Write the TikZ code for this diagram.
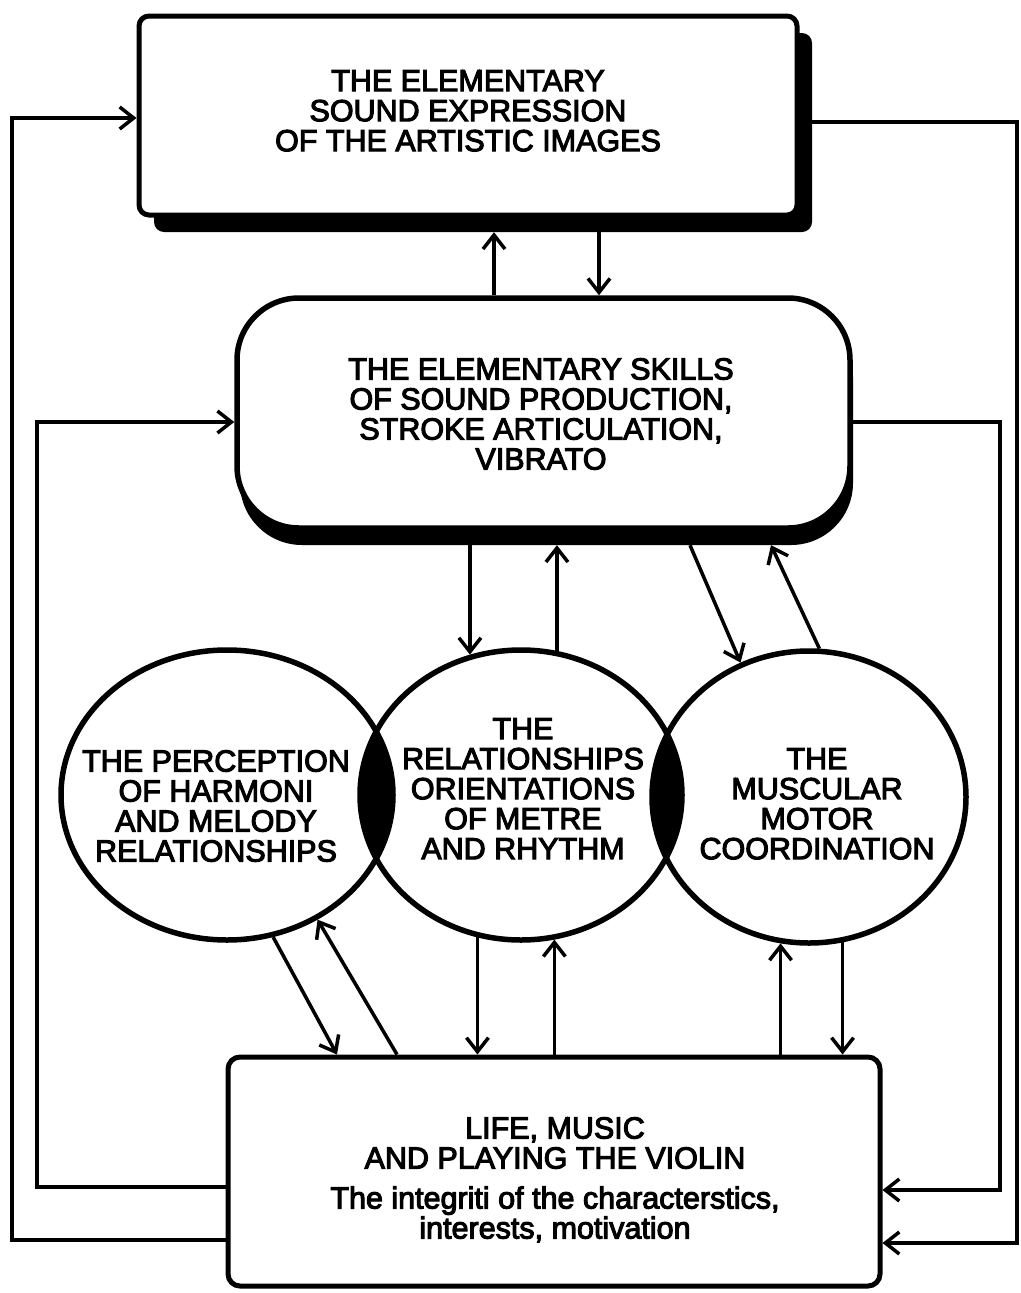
\documentclass[tikz,border=0pt]{standalone}
\usepackage{fontspec}
\setmainfont{Liberation Sans}[FakeBold=3.5]
\usetikzlibrary{arrows.meta,shapes.geometric}
\begin{document}
\begin{tikzpicture}[x=1pt,y=-1pt,
  boxline/.style={draw=black,line width=5pt,fill=white,inner sep=0pt},
  shadowfill/.style={fill=black,inner sep=0pt},
  ring/.style={ellipse,draw=black,line width=5.5pt,inner sep=0pt},
  txt/.style={font=\fontsize{30.5pt}{30pt}\selectfont,align=center,inner sep=0pt},
  arr/.style={line width=3.5pt,-{Straight Barb[length=14pt,width=22pt]}},
  link/.style={line width=3.5pt}
]
\useasboundingbox (0,0) rectangle (1020,1293);
\fill[white] (0,0) rectangle (1020,1293);

% top box with shadow
\node[shadowfill,rounded corners=10pt,minimum width=658pt,minimum height=199pt] (topsh) at (483,132.5) {};
\node[boxline,rounded corners=10pt,minimum width=658pt,minimum height=199pt] (top) at (468,115.5) {};
\node[txt,anchor=north] (toptext) at (468,70) {THE ELEMENTARY\\SOUND EXPRESSION\\OF THE ARTISTIC IMAGES};

% skills box with shadow
\node[shadowfill,rounded corners=62pt,minimum width=613pt,minimum height=230pt] (skillsh) at (546.5,430) {};
\node[boxline,line width=5.5pt,rounded corners=62pt,minimum width=613pt,minimum height=230pt] (skills) at (543.5,413) {};
\node[txt,anchor=north] (skillstext) at (541,358) {THE ELEMENTARY SKILLS\\OF SOUND PRODUCTION,\\STROKE ARTICULATION,\\VIBRATO};

% bottom box
\node[boxline,rounded corners=12pt,minimum width=652pt,minimum height=229pt] (life) at (554,1171.5) {};
\node[txt,anchor=north] (lifetext) at (555,1117) {LIFE, MUSIC\\AND PLAYING THE VIOLIN\\[10pt]The integriti of the characterstics,\\interests, motivation};

% circles
\node[ring,minimum width=332pt,minimum height=290pt] (lc) at (227,795) {};
\node[ring,minimum width=322pt,minimum height=290pt] (mid) at (521,795) {};
\node[ring,minimum width=314pt,minimum height=292pt] (rc) at (809,797) {};
\begin{scope}
  \clip (227,795) ellipse [x radius=166pt, y radius=145pt];
  \fill[black] (521,795) ellipse [x radius=161pt, y radius=145pt];
\end{scope}
\begin{scope}
  \clip (521,795) ellipse [x radius=161pt, y radius=145pt];
  \fill[black] (809,797) ellipse [x radius=157pt, y radius=146pt];
\end{scope}
\node[txt,anchor=north] (lctext) at (216,750) {THE PERCEPTION\\OF HARMONI\\AND MELODY\\RELATIONSHIPS};
\node[txt,anchor=north] (midtext) at (523,718) {THE\\RELATIONSHIPS\\ORIENTATIONS\\OF METRE\\AND RHYTHM};
\node[txt,anchor=north] (rctext) at (817,748) {THE\\MUSCULAR\\MOTOR\\COORDINATION};

% helper coordinates
\coordinate (xa) at (494,0);
\coordinate (xb) at (599,0);
\coordinate (xe) at (690,0);
\coordinate (xf) at (771,0);
\coordinate (xg) at (337,0);
\coordinate (xh) at (397,0);
\coordinate (o1) at (12,1240);
\coordinate (o2) at (12,118);
\coordinate (i1) at (37,1187);
\coordinate (i2) at (37,422);
\coordinate (r1) at (1000,422);
\coordinate (r2) at (1000,1190);
\coordinate (q1) at (1017,122);
\coordinate (q2) at (1017,1243);

% top <-> skills
\draw[arr] (skills.north -| xa) -- (topsh.south -| xa);
\draw[arr] (topsh.south -| xb) -- (skills.north -| xb);

% skills <-> circles
\draw[arr] (skillsh.south -| mid.110) -- (mid.110);
\draw[arr] (mid.76) -- (skillsh.south -| mid.76);
\draw[arr] (skillsh.south -| xe) -- (rc.117);
\draw[arr] (rc.86) -- (skillsh.south -| xf);

% circles <-> life
\draw[arr] (lc.288) -- (life.north -| xg);
\draw[arr] (life.north -| xh) -- (lc.306);
\draw[arr] (mid.253) -- (life.north -| mid.253);
\draw[arr] (life.north -| mid.283) -- (mid.283);
\draw[arr] (life.north -| rc.259) -- (rc.259);
\draw[arr] (rc.283) -- (life.north -| rc.283);

% feedback loops
\draw[arr] (life.west |- o1) -- (o1) -- (o2) -- (top.west |- o2);
\draw[arr] (life.west |- i1) -- (i1) -- (i2) -- (skills.west |- i2);
\draw[arr] (skills.east |- r1) -- (r1) -- (r2) -- (life.east |- r2);
\draw[arr] (topsh.east |- q1) -- (q1) -- (q2) -- (life.east |- q2);
\end{tikzpicture}
\end{document}
